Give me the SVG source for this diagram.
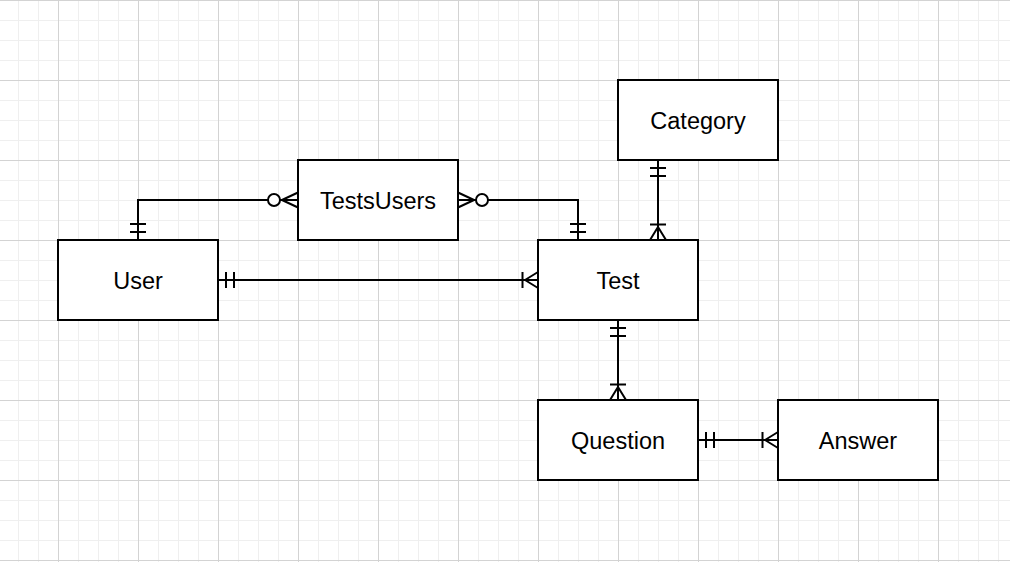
<svg xmlns="http://www.w3.org/2000/svg" width="1010" height="562" viewBox="0 0 1010 562">
  <style>
    .node rect { fill: #ffffff; stroke: #000000; stroke-width: 2; }
    .node text { font-family: "Liberation Sans", Helvetica, Arial, sans-serif; font-size: 23.5px; fill: #000000; text-anchor: middle; }
    .edge { fill: none; stroke: #000000; stroke-width: 2; }
    .mk { fill: none; stroke: #000000; stroke-width: 2; }
  </style>
  <defs>
    <pattern id="minor" x="18" y="0" width="20" height="20" patternUnits="userSpaceOnUse">
      <path d="M0.5,0 V20 M0,0.5 H20" fill="none" stroke="#efefef" stroke-width="1"/>
    </pattern>
    <pattern id="major" x="58" y="0" width="80" height="80" patternUnits="userSpaceOnUse">
      <path d="M0.5,0 V80 M0,0.5 H80" fill="none" stroke="#d3d3d3" stroke-width="1"/>
    </pattern>
    <marker id="mandOne" markerUnits="userSpaceOnUse" orient="auto-start-reverse" refX="0" refY="0" markerWidth="40" markerHeight="40" overflow="visible">
      <path class="mk" d="M-8,-8 V8 M-16,-8 V8"/>
    </marker>
    <marker id="oneMany" markerUnits="userSpaceOnUse" orient="auto-start-reverse" refX="0" refY="0" markerWidth="40" markerHeight="40" overflow="visible">
      <path class="mk" d="M-15.5,-8 V8 M-13,0 L0,-8 M-13,0 L0,8"/>
    </marker>
    <marker id="zeroMany" markerUnits="userSpaceOnUse" orient="auto-start-reverse" refX="0" refY="0" markerWidth="40" markerHeight="40" overflow="visible">
      <path class="mk" d="M-16,0 L0,-7.5 M-16,0 L0,7.5"/>
      <circle cx="-24" cy="0" r="6" fill="#ffffff" stroke="#000000" stroke-width="2"/>
    </marker>
  </defs>
  <rect x="0" y="0" width="1010" height="562" fill="#ffffff"/>
  <rect x="0" y="0" width="1010" height="562" fill="url(#minor)"/>
  <rect x="0" y="0" width="1010" height="562" fill="url(#major)"/>

  <g id="connectors">
    <path class="edge" d="M138,240 V200 H298" marker-start="url(#mandOne)" marker-end="url(#zeroMany)"/>
    <path class="edge" d="M458,200 H578 V240" marker-start="url(#zeroMany)" marker-end="url(#mandOne)"/>
    <path class="edge" d="M658,160 V240" marker-start="url(#mandOne)" marker-end="url(#oneMany)"/>
    <path class="edge" d="M218,280 H538" marker-start="url(#mandOne)" marker-end="url(#oneMany)"/>
    <path class="edge" d="M618,320 V400" marker-start="url(#mandOne)" marker-end="url(#oneMany)"/>
    <path class="edge" d="M698,440 H778" marker-start="url(#mandOne)" marker-end="url(#oneMany)"/>
  </g>

  <g id="category" class="node">
    <rect x="618" y="80" width="160" height="80"/>
    <text x="698" y="128.5">Category</text>
  </g>
  <g id="testsusers" class="node">
    <rect x="298" y="160" width="160" height="80"/>
    <text x="378" y="208.5">TestsUsers</text>
  </g>
  <g id="user" class="node">
    <rect x="58" y="240" width="160" height="80"/>
    <text x="138" y="288.5">User</text>
  </g>
  <g id="test" class="node">
    <rect x="538" y="240" width="160" height="80"/>
    <text x="618" y="288.5">Test</text>
  </g>
  <g id="question" class="node">
    <rect x="538" y="400" width="160" height="80"/>
    <text x="618" y="448.5">Question</text>
  </g>
  <g id="answer" class="node">
    <rect x="778" y="400" width="160" height="80"/>
    <text x="858" y="448.5">Answer</text>
  </g>
</svg>
